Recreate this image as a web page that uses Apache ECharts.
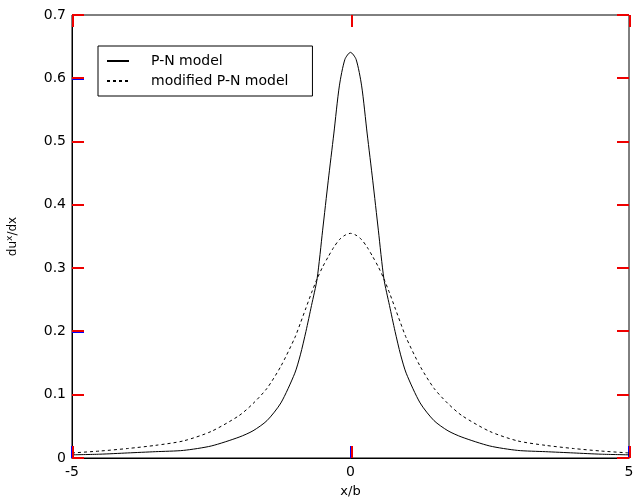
<!DOCTYPE html>
<html>
<head>
<meta charset="utf-8">
<script src="https://cdn.jsdelivr.net/npm/echarts@6/dist/echarts.min.js"></script>
<style>
  html, body { margin: 0; padding: 0; background: #fff; }
  #chart { width: 638px; height: 500px; }
</style>
</head>
<body>
<div id="chart"></div>
<script>
var xs = [-5, -4.5, -4, -3.5, -3, -2.5, -2, -1.75, -1.5, -1.25, -1, -0.9, -0.8, -0.7, -0.6, -0.5, -0.4, -0.3, -0.2, -0.1,
          0, 0.1, 0.2, 0.3, 0.4, 0.5, 0.6, 0.7, 0.8, 0.9, 1, 1.25, 1.5, 1.75, 2, 2.5, 3, 3.5, 4, 4.5, 5];
// P-N model (solid)
var pnModel = [0.005, 0.006, 0.008, 0.010, 0.012, 0.019, 0.033, 0.043, 0.059, 0.087, 0.134, 0.163, 0.200, 0.241, 0.283, 0.360, 0.438, 0.512, 0.588, 0.630,
               0.641, 0.630, 0.588, 0.512, 0.438, 0.360, 0.283, 0.241, 0.200, 0.163, 0.134, 0.087, 0.059, 0.043, 0.033, 0.019, 0.012, 0.010, 0.008, 0.006, 0.005];
// modified P-N model (dashed)
var modifiedModel = [0.008, 0.011, 0.015, 0.020, 0.027, 0.042, 0.067, 0.086, 0.110, 0.145, 0.190, 0.213, 0.237, 0.261, 0.283, 0.302, 0.318, 0.333, 0.345, 0.352,
                     0.355, 0.352, 0.345, 0.333, 0.318, 0.302, 0.283, 0.261, 0.237, 0.213, 0.190, 0.145, 0.110, 0.086, 0.067, 0.042, 0.027, 0.020, 0.015, 0.011, 0.008];
var seriesNames = ["P-N model", "modified P-N model"];
var xTicks = [-5, 0, 5];
var yTicks = [0, 0.1, 0.2, 0.3, 0.4, 0.5, 0.6, 0.7];

var font = "'DejaVu Sans', Verdana, sans-serif";
var tickLen = 12;
var chart = echarts.init(document.getElementById("chart"));

function pairs(ys) {
   return xs.map(function (x, i) { return [x, ys[i]]; });
}

// inward ticks on all four sides of the box
function renderTick(params, api) {
   var cs = params.coordSys;
   var p = api.coord([api.value(0), api.value(1)]);
   var rects;
   if (api.value(2) === 0) {
      var y = Math.round(p[1]) - 1;
      rects = [
         { x: cs.x, y: y, width: tickLen, height: 2 },
         { x: cs.x + cs.width - tickLen, y: y, width: tickLen, height: 2 }
      ];
   } else {
      var x = Math.round(p[0]);
      rects = [
         { x: x, y: cs.y + cs.height - tickLen, width: 2, height: tickLen },
         { x: x, y: cs.y, width: 2, height: tickLen }
      ];
   }
   return {
      type: "group",
      children: rects.map(function (shape) {
         return { type: "rect", shape: shape, style: { fill: "#e00" } };
      })
   };
}

var tickData = yTicks.map(function (v) { return [0, v, 0]; })
   .concat(xTicks.map(function (v) { return [v, 0, 1]; }));

var option = {
   backgroundColor: "#fff",
   animation: false,
   textStyle: { fontFamily: font, color: "#000" },
   grid: {
      left: 72, right: 9, top: 15, bottom: 42,
      outerBoundsMode: "none",
      show: true, borderColor: "#000", borderWidth: 1
   },
   legend: {
      left: 98, top: 46,
      orient: "vertical",
      itemWidth: 22, itemHeight: 14, itemGap: 6,
      padding: [8, 24, 8, 8],
      borderColor: "#000", borderWidth: 1, backgroundColor: "#fff",
      itemStyle: { opacity: 0 },
      textStyle: { fontFamily: font, fontSize: 14, color: "#000", padding: [0, 0, 0, 17] },
      data: seriesNames
   },
   xAxis: {
      type: "value", min: -5, max: 5, interval: 5,
      name: "x/b", nameLocation: "middle", nameGap: 27,
      nameTextStyle: { fontFamily: font, fontSize: 13, color: "#000" },
      axisLine: { onZero: false, lineStyle: { color: "#000" } },
      axisTick: { show: true, inside: true, length: 12, lineStyle: { color: "#00f", width: 2 } },
      axisLabel: { fontFamily: font, fontSize: 14, color: "#000", margin: 7 },
      splitLine: { show: false }
   },
   yAxis: {
      type: "value", min: 0, max: 0.7, interval: 0.1,
      name: "du{sup|x}/dx", nameLocation: "middle", nameGap: 52, nameRotate: 90,
      nameTextStyle: {
         fontFamily: font, fontSize: 12, color: "#000",
         rich: { sup: { fontFamily: font, fontSize: 9, color: "#000", verticalAlign: "top", padding: [0, 0, 6, 0] } }
      },
      axisLine: { onZero: false, lineStyle: { color: "#000" } },
      axisTick: { show: true, inside: true, length: 12, lineStyle: { color: "#00f", width: 2 } },
      axisLabel: { fontFamily: font, fontSize: 14, color: "#000", margin: 6 },
      splitLine: { show: false }
   },
   series: [{
      name: seriesNames[0],
      type: "line",
      data: pairs(pnModel),
      showSymbol: false, symbol: "none", smooth: 0.25,
      lineStyle: { color: "#000", width: 1, type: "solid" },
      itemStyle: { color: "#000" }
   }, {
      name: seriesNames[1],
      type: "line",
      data: pairs(modifiedModel),
      showSymbol: false, symbol: "none", smooth: 0.25,
      lineStyle: { color: "#000", width: 1, type: [3, 3] },
      itemStyle: { color: "#000" }
   }, {
      name: "ticks",
      type: "custom",
      silent: true,
      clip: false,
      z: 5,
      encode: { x: 0, y: 1 },
      data: tickData,
      renderItem: renderTick
   }]
};
chart.setOption(option);
</script>
</body>
</html>
